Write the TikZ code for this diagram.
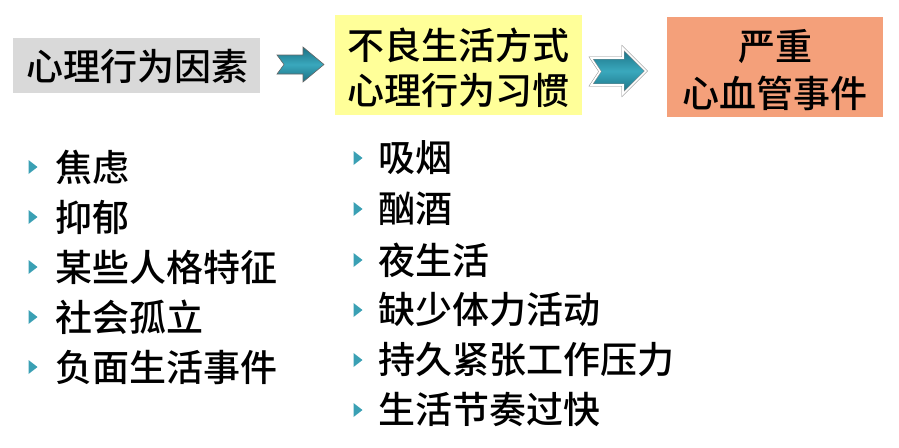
\documentclass[tikz,border=0pt]{standalone}
\usepackage{fontspec}
\newfontfamily\cjk{Noto Sans CJK SC}[UprightFont={* Medium},BoldFont={* Bold}]
\definecolor{graybox}{HTML}{D9D9D9}
\definecolor{yelbox}{HTML}{FFFF99}
\definecolor{orgbox}{HTML}{F4A07A}
\definecolor{teal1}{HTML}{1A6F82}
\definecolor{teal2}{HTML}{3AA8BD}
\definecolor{bul}{HTML}{3AA0B4}
\begin{document}
\begin{tikzpicture}[x=1pt,y=-1pt,
  every node/.style={font=\cjk\fontsize{37}{42}\selectfont, inner sep=0pt},
  item/.style={anchor=west},
  bulletmark/.style={fill=bul},
  blockarrow/.style={draw=black!60, line width=0.6pt, top color=teal1, bottom color=teal1, middle color=teal2},
  blockarrowb/.style={draw=black!45, double=white, double distance=1.6pt, line width=0.5pt, top color=teal1, bottom color=teal1, middle color=teal2}]
\useasboundingbox (0,0) rectangle (899,447);
% boxes
\fill[graybox] (13,38) rectangle (260,93);
\node (g) at (137,66) {心理行为因素};
\fill[yelbox] (335,15) rectangle (582,115);
\node (y1) at (458,45) {不良生活方式};
\node (y2) at (458,90) {心理行为习惯};
\fill[orgbox] (667,17) rectangle (883,117);
\node (o1) at (775,47) {严重};
\node (o2) at (775,93) {心血管事件};
% arrows
\path[blockarrow] (277,55) -- (303,55) -- (303,47) -- (324,64.5) -- (303,82) -- (303,74) -- (277,74) -- (284,64.5) -- cycle;
\path[blockarrowb] (591,58) -- (623,58) -- (623,48) -- (646,71) -- (623,94) -- (623,85) -- (591,85) -- (600,71.5) -- cycle;
% left list
\foreach \t/\yy [count=\i] in {焦虑/167, 抑郁/217, 某些人格特征/267, 社会孤立/317, 负面生活事件/367}{
  \fill[bulletmark] (28.5,\yy-7) -- (37.5,\yy) -- (28.5,\yy+7) -- cycle;
  \node[item] (l\i) at (55,\yy) {\t};
}
% right list
\foreach \t/\yy [count=\i] in {吸烟/158, 酗酒/209, 夜生活/260, 缺少体力活动/310, 持久紧张工作压力/360, 生活节奏过快/410}{
  \fill[bulletmark] (353.5,\yy-7) -- (362.5,\yy) -- (353.5,\yy+7) -- cycle;
  \node[item] (r\i) at (378,\yy) {\t};
}
\end{tikzpicture}
\end{document}
